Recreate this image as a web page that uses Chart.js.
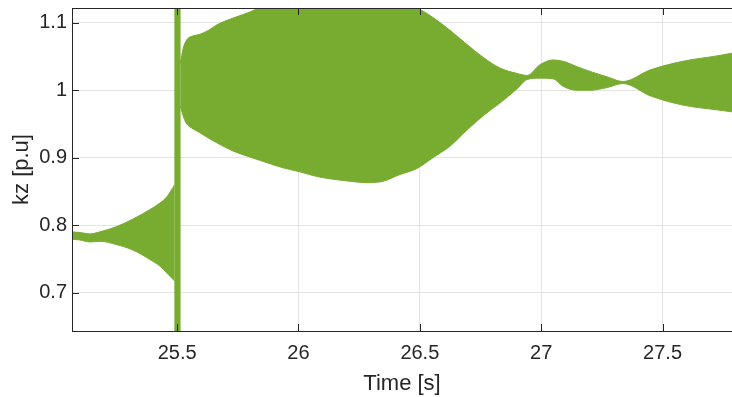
<!DOCTYPE html>
<html>
<head>
<meta charset="utf-8">
<script src="https://cdn.jsdelivr.net/npm/chart.js@4"></script>
<style>
  html, body { margin: 0; padding: 0; background: #fff; }
  #wrap { width: 732px; height: 397px; }
</style>
</head>
<body>
<div id="wrap"><canvas id="kzChart"></canvas></div>
<script>
// kz oscillates too fast to see single periods, so only its envelope is kept
// before the disturbance
const preTime  = [25.067, 25.100, 25.141, 25.182, 25.252, 25.318, 25.388, 25.430, 25.458, 25.490];
const preUpper = [0.790, 0.789, 0.787, 0.790, 0.798, 0.809, 0.823, 0.833, 0.842, 0.860];
const preLower = [0.779, 0.778, 0.775, 0.776, 0.771, 0.763, 0.749, 0.739, 0.729, 0.717];

// the switching spike, runs off both ends of the axis
const spikeTime  = [25.488, 25.515];
const spikeUpper = [1.30, 1.30];
const spikeLower = [0.50, 0.50];

// after the disturbance
const postTime = [
  25.513, 25.525, 25.535, 25.545, 25.560, 25.594, 25.630, 25.664, 25.730, 25.800,
  25.842, 25.936, 26.006, 26.077, 26.213, 26.283, 26.348, 26.418, 26.488, 26.554,
  26.624, 26.694, 26.760, 26.830, 26.900, 26.942, 26.995, 27.049, 27.090, 27.148,
  27.201, 27.271, 27.337, 27.448, 27.584, 27.724, 27.786,
];
const postUpper = [
  1.040, 1.062, 1.072, 1.077, 1.080, 1.083, 1.089, 1.097, 1.107, 1.116,
  1.123, 1.131, 1.136, 1.140, 1.142, 1.140, 1.136, 1.130, 1.122, 1.108,
  1.089, 1.068, 1.049, 1.033, 1.025, 1.022, 1.038, 1.045, 1.043, 1.035,
  1.028, 1.020, 1.013, 1.030, 1.043, 1.051, 1.055,
];
const postLower = [
  0.977, 0.962, 0.953, 0.948, 0.944, 0.937, 0.929, 0.922, 0.910, 0.901,
  0.896, 0.885, 0.879, 0.872, 0.865, 0.863, 0.865, 0.875, 0.884, 0.900,
  0.917, 0.941, 0.962, 0.981, 1.002, 1.016, 1.018, 1.017, 1.006, 1.000,
  1.000, 1.004, 1.010, 0.992, 0.978, 0.971, 0.968,
];

const xTicks = [25.5, 26, 26.5, 27, 27.5];
const yTicks = [0.7, 0.8, 0.9, 1, 1.1];

const green = "rgb(119, 172, 48)";
const axisColor = "#262626";
const font = "'Liberation Sans', Arial, Helvetica, sans-serif";

function toPoints(xs, ys) {
  return xs.map((t, i) => ({ x: t, y: ys[i] }));
}

// one band = lower edge + upper edge filled down to it
function band(xs, lo, hi, smooth) {
  const common = {
    borderColor: green,
    backgroundColor: green,
    borderWidth: 1,
    pointRadius: 0,
    cubicInterpolationMode: smooth ? "monotone" : "default",
    tension: 0,
  };
  return [
    { ...common, data: toPoints(xs, lo), fill: false },
    { ...common, data: toPoints(xs, hi), fill: "-1" },
  ];
}

// MATLAB style box: dark axis lines with inward ticks
const axesBox = {
  id: "axesBox",
  afterDatasetsDraw(chart) {
    const { ctx, chartArea: a, scales } = chart;
    ctx.save();
    ctx.strokeStyle = axisColor;
    ctx.lineWidth = 1;
    ctx.beginPath();
    ctx.moveTo(a.left + 0.5, a.top + 0.5);
    ctx.lineTo(a.left + 0.5, a.bottom + 0.5);
    ctx.moveTo(a.left, a.bottom + 0.5);
    ctx.lineTo(a.right, a.bottom + 0.5);
    ctx.moveTo(a.left, a.top + 0.5);
    ctx.lineTo(a.right, a.top + 0.5);
    xTicks.forEach((v) => {
      const px = Math.round(scales.x.getPixelForValue(v)) + 0.5;
      ctx.moveTo(px, a.bottom);
      ctx.lineTo(px, a.bottom - 7);
      ctx.moveTo(px, a.top);
      ctx.lineTo(px, a.top + 7);
    });
    yTicks.forEach((v) => {
      const py = Math.round(scales.y.getPixelForValue(v)) + 0.5;
      ctx.moveTo(a.left, py);
      ctx.lineTo(a.left + 7, py);
    });
    ctx.stroke();
    ctx.restore();
  },
};

new Chart(document.getElementById("kzChart"), {
  type: "line",
  data: {
    datasets: [
      ...band(preTime, preLower, preUpper, true),
      ...band(spikeTime, spikeLower, spikeUpper, false),
      ...band(postTime, postLower, postUpper, true),
    ],
  },
  options: {
    responsive: true,
    maintainAspectRatio: false,
    animation: false,
    layout: { padding: { top: 8, right: 0, left: 0, bottom: 0 } },
    plugins: {
      legend: { display: false },
      tooltip: { enabled: false },
    },
    scales: {
      x: {
        type: "linear",
        min: 25.067,
        max: 27.786,
        afterBuildTicks: (s) => { s.ticks = xTicks.map((v) => ({ value: v })); },
        afterFit: (s) => {
          s.height = 66;
          s.paddingLeft = 0;
          s.paddingRight = 0;
        },
        border: { display: false },
        grid: { color: "#e3e3e3", drawTicks: false },
        ticks: {
          padding: 10,
          color: axisColor,
          font: { family: font, size: 20 },
          callback: (v) => String(v),
          maxRotation: 0,
        },
        title: {
          display: true,
          text: "Time [s]",
          color: axisColor,
          font: { family: font, size: 22 },
          padding: { top: 0, bottom: 0 },
        },
      },
      y: {
        type: "linear",
        min: 0.643,
        max: 1.122,
        afterBuildTicks: (s) => { s.ticks = yTicks.map((v) => ({ value: v })); },
        afterFit: (s) => {
          s.width = 72;
          s.paddingTop = 0;
          s.paddingBottom = 0;
        },
        border: { display: false },
        grid: { color: "#e3e3e3", drawTicks: false },
        ticks: {
          padding: 5,
          color: axisColor,
          font: { family: font, size: 20 },
          callback: (v) => String(Number(v.toFixed(2))),
        },
        title: {
          display: true,
          text: "kz [p.u]",
          color: axisColor,
          font: { family: font, size: 22 },
          padding: { top: 9, bottom: 0 },
        },
      },
    },
  },
  plugins: [axesBox],
});
</script>
</body>
</html>
